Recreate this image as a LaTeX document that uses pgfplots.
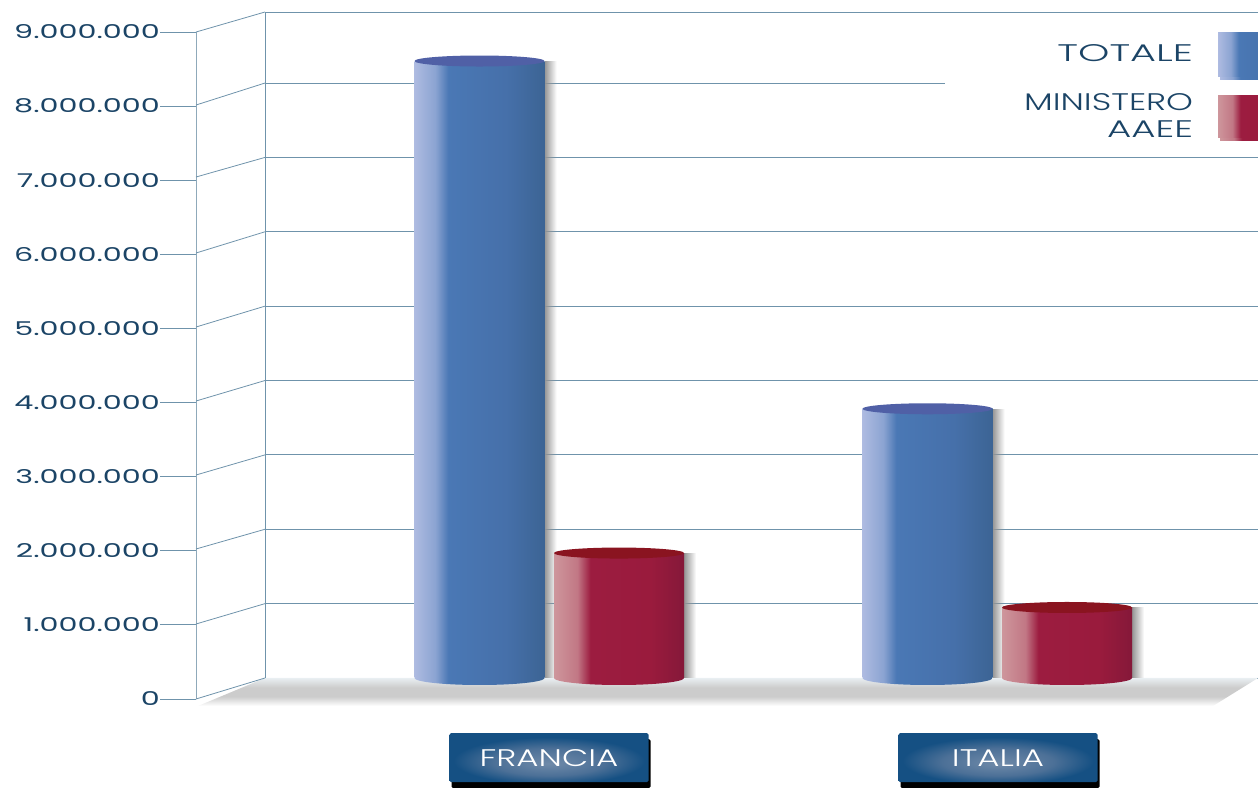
\documentclass[border=0pt]{standalone}
\usepackage{fontspec}
\setmainfont[FakeStretch=1.42]{Poppins Light}
\newfontfamily\wideA[FakeStretch=1.66]{Poppins Light}
\newfontfamily\wideB[FakeStretch=1.55]{Poppins Light}
\newfontfamily\tickfont[FakeStretch=1.59]{Poppins}
\usepackage{pgfplots}
\usepackage{pgfplotstable}
\pgfplotsset{compat=1.18}
\usetikzlibrary{shadows,fadings}

\definecolor{gridcol}{HTML}{6F93AB}
\definecolor{wallcol}{HTML}{8FA9BA}
\definecolor{inkcol}{HTML}{1B4466}
\definecolor{blueA}{HTML}{AEBBE1}
\definecolor{blueB}{HTML}{4A78B5}
\definecolor{blueC}{HTML}{4670AA}
\definecolor{blueD}{HTML}{3C6494}
\definecolor{blueTop}{HTML}{5060A6}
\definecolor{redA}{HTML}{CE969C}
\definecolor{redB}{HTML}{9C1C40}
\definecolor{redC}{HTML}{9A1B3D}
\definecolor{redD}{HTML}{851839}
\definecolor{redTop}{HTML}{8A1420}
\definecolor{btnA}{HTML}{6F8AA9}
\definecolor{btnB}{HTML}{4C7097}
\definecolor{btnC}{HTML}{155083}

\pgfdeclarehorizontalshading{bluecyl}{100bp}{color(0bp)=(blueA); color(25bp)=(blueA); color(33bp)=(blueA!65!blueB); color(38bp)=(blueB); color(60bp)=(blueC); color(75bp)=(blueD); color(100bp)=(blueD)}
\pgfdeclarehorizontalshading{redcyl}{100bp}{color(0bp)=(redA); color(25bp)=(redA); color(34bp)=(redA!75!redB); color(39bp)=(redB); color(62bp)=(redC); color(75bp)=(redD); color(100bp)=(redD)}
\pgfdeclareverticalshading{floorshade}{100bp}{color(0bp)=(white); color(25bp)=(white); color(42bp)=(black!20); color(58bp)=(black!20); color(75bp)=(gridcol!15); color(100bp)=(gridcol!15)}
\pgfdeclareradialshading{btnshade}{\pgfpoint{0bp}{-6bp}}{color(0bp)=(btnA); color(14bp)=(btnB); color(24bp)=(btnC); color(50bp)=(btnC)}

\pgfdeclareplotmark{blueBase}{\pgfpathellipse{\pgfpointorigin}{\pgfqpoint{65pt}{0pt}}{\pgfqpoint{0pt}{7pt}}\pgfshadepath{bluecyl}{0}\pgfusepath{discard}}
\pgfdeclareplotmark{redBase}{\pgfpathellipse{\pgfpointorigin}{\pgfqpoint{65pt}{0pt}}{\pgfqpoint{0pt}{7pt}}\pgfshadepath{redcyl}{0}\pgfusepath{discard}}
\pgfdeclareplotmark{blueCap}{\pgfsetfillcolor{blueTop}\pgfpathellipse{\pgfpointorigin}{\pgfqpoint{65pt}{0pt}}{\pgfqpoint{0pt}{5.5pt}}\pgfusepathqfill}
\pgfdeclareplotmark{redCap}{\pgfsetfillcolor{redTop}\pgfpathellipse{\pgfpointorigin}{\pgfqpoint{65pt}{0pt}}{\pgfqpoint{0pt}{5.5pt}}\pgfusepathqfill}

% one small table per cylinder: x centre in the picture, value
\pgfplotstableread{
x v
479.5 8296000
}\franciaTot
\pgfplotstableread{
x v
619 1680000
}\franciaMin
\pgfplotstableread{
x v
927.5 3620000
}\italiaTot
\pgfplotstableread{
x v
1067 948000
}\italiaMin

% #1 table, #2 shading, #3 mark prefix, #4 options of the bar itself
\newcommand{\cylinder}[4]{%
  \addplot[forget plot, ybar, bar shift=71pt, bar width=12pt, draw=none, fill=black!42, path fading=east] table[x=x,y=v] {#1};
  \addplot[forget plot, only marks, mark=#3Base] table[x=x,y expr=0] {#1};
  \addplot[ybar, bar shift=0pt, bar width=130pt, draw=none, shading=#2, #4] table[x=x,y=v] {#1};
  \addplot[forget plot, only marks, mark=#3Cap] table[x=x,y=v] {#1};
}

\begin{document}
\begin{tikzpicture}[x=1pt,y=1pt]
\useasboundingbox (0,0) rectangle (1258,787);

% front scale, carries the numbers
\begin{axis}[
    at={(196pt,88pt)}, anchor=south west,
    scale only axis, width=10pt, height=667pt,
    xmin=0, xmax=1, ymin=0, ymax=9000000,
    axis y line=left, axis x line=none,
    axis line style={-, draw=wallcol, line width=1pt},
    ytick={0,1000000,2000000,3000000,4000000,5000000,6000000,7000000,8000000,9000000},
    scaled y ticks=false,
    tick align=outside, major tick length=36pt,
    y tick style={draw=gridcol, line width=0.8pt},
    yticklabel style={
        /pgf/number format/.cd, fixed, precision=0, 1000 sep={.}, assume math mode=true,
        /tikz/.cd, font=\tickfont\fontsize{19}{19}\selectfont, text=inkcol, inner sep=0pt},
]
\end{axis}

% back wall with the cylinders; the top line sits a little under 9M in the reference
\begin{axis}[
    at={(265pt,109pt)}, anchor=south west,
    scale only axis, width=993pt, height=666pt,
    xmin=265, xmax=1258, ymin=0, ymax=8955000,
    clip=false,
    axis line style={draw=none},
    ytick={0,1000000,2000000,3000000,4000000,5000000,6000000,7000000,8955000},
    yticklabels={},
    scaled y ticks=false,
    ymajorgrids=true,
    grid style={draw=gridcol, line width=0.8pt},
    xtick={549,998},
    xticklabels={FRANCIA,ITALIA},
    major tick length=0pt,
    xticklabel style={
        anchor=north, yshift=-55pt, inner sep=0pt,
        minimum width=199pt, minimum height=49pt,
        rounded corners=1.5pt, shading=btnshade,
        general shadow={fill=black, shadow xshift=2pt, shadow yshift=-6pt},
        font=\fontsize{24}{24}\selectfont, text=white},
    legend plot pos=right,
    legend cell align=right,
    legend style={
        at={(axis cs:1298,8686000)}, anchor=north east,
        draw=none, fill=none, inner sep=0pt, outer sep=0pt,
        row sep=13pt, column sep=23pt,
        font=\fontsize{24}{27}\selectfont, text=inkcol,
        cells={align=right}},
]
% floor shadow
\path[shading=floorshade] (axis cs:198,-376500) -- (axis cs:265,0) -- (axis cs:1258,0) -- (axis cs:1213,-376500) -- cycle;

% connectors from the front scale to the wall, and the wall edge
\addplot[forget plot, gridcol, line width=0.8pt, unbounded coords=jump] coordinates {
    (196,-282400)(265,0) (nan,nan)
    (196,726100)(265,1000000) (nan,nan)
    (196,1734500)(265,2000000) (nan,nan)
    (196,2729400)(265,3000000) (nan,nan)
    (196,3724400)(265,4000000) (nan,nan)
    (196,4719300)(265,5000000) (nan,nan)
    (196,5714300)(265,6000000) (nan,nan)
    (196,6736100)(265,7000000) (nan,nan)
    (196,7704200)(265,8000000) (nan,nan)
    (196,8685700)(265,8955000)
};
\addplot[forget plot, gridcol, line width=0.8pt] coordinates {(265,0)(265,8955000)};
\addplot[forget plot, gridcol, line width=0.8pt] coordinates {(265,8000000)(945,8000000)};

\cylinder{\franciaTot}{bluecyl}{blue}{legend image code/.code={\path[fill=black!35] (2pt,-25pt) rectangle (80pt,20pt); \path[shading=bluecyl] (0pt,-22pt) rectangle (80pt,22pt);}}
\addlegendentry{{\wideA TOTALE}}
\cylinder{\franciaMin}{redcyl}{red}{legend image code/.code={\path[fill=black!35] (2pt,-24pt) rectangle (80pt,19pt); \path[shading=redcyl] (0pt,-21pt) rectangle (80pt,21pt);}}
\addlegendentry{MINISTERO\\{\wideB AAEE}}
\cylinder{\italiaTot}{bluecyl}{blue}{forget plot}
\cylinder{\italiaMin}{redcyl}{red}{forget plot}
\end{axis}
\end{tikzpicture}
\end{document}
